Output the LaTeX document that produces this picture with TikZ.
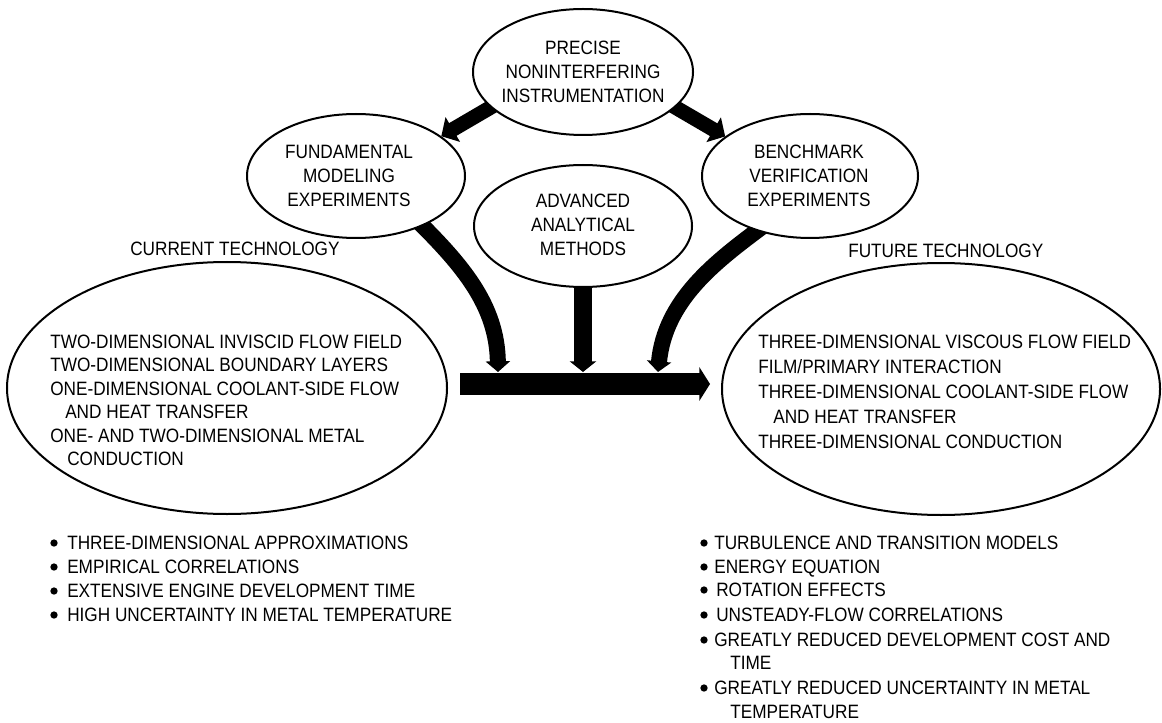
\documentclass[tikz,border=0pt]{standalone}
\usepackage{fontspec}
\setmainfont{Liberation Sans}[FakeStretch=0.89]
\usetikzlibrary{shapes.geometric,arrows.meta,calc}
\pgfdeclarelayer{bg}
\pgfsetlayers{bg,main}
\begin{document}
\begin{tikzpicture}[x=0.75pt,y=-0.75pt,
  oval/.style={draw, ellipse, line width=1.5pt, fill=white, inner sep=0pt},
  txt/.style={font=\fontsize{14.5pt}{18pt}\selectfont, inner sep=0pt},
  lbl/.style={txt, align=center},
  tline/.style={txt, anchor=base west},
  dot/.style={circle, fill=black, inner sep=0pt, minimum size=5.5pt},
  dband/.style={line width=11pt, -{Triangle[length=10pt,width=21pt]}},
  cband/.style={line width=12pt, -{Triangle[length=8pt,width=18pt]}},
  mband/.style={line width=13.5pt, -{Triangle[length=8pt,width=19.5pt]}},
  bigband/.style={line width=16.5pt, -{Triangle[length=8pt,width=25pt]}}
]
\useasboundingbox (0,0) rectangle (1162,723);

% ellipses
\node[oval, minimum width=165pt, minimum height=94.5pt] (prec) at (583,72) {};
\node[lbl] (prect) at (583,72) {PRECISE\\NONINTERFERING\\INSTRUMENTATION};
\node[oval, minimum width=163.5pt, minimum height=93pt] (fund) at (356,176) {};
\node[lbl] (fundt) at (349,176) {FUNDAMENTAL\\MODELING\\EXPERIMENTS};
\node[oval, minimum width=162pt, minimum height=93pt] (bench) at (810,176) {};
\node[lbl] (bencht) at (809,176) {BENCHMARK\\VERIFICATION\\EXPERIMENTS};
\node[oval, minimum width=163.5pt, minimum height=91.5pt] (adv) at (583,226) {};
\node[lbl] (advt) at (583,225) {ADVANCED\\ANALYTICAL\\METHODS};
\node[oval, minimum width=330pt, minimum height=189pt] (cur) at (227,388) {};
\node[oval, minimum width=328.5pt, minimum height=189pt] (fut) at (941,389) {};

% headings
\node[tline] (curl) at (130,256) {CURRENT TECHNOLOGY};
\node[tline] (futl) at (848,258) {FUTURE TECHNOLOGY};

% current technology
\node[tline] (c1) at (50,348) {TWO-DIMENSIONAL INVISCID FLOW FIELD};
\node[tline] (c2) at (50,371.5) {TWO-DIMENSIONAL BOUNDARY LAYERS};
\node[tline] (c3) at (50,395) {ONE-DIMENSIONAL COOLANT-SIDE FLOW};
\node[tline] (c4) at (65,418.5) {AND HEAT TRANSFER};
\node[tline] (c5) at (50,442) {ONE- AND TWO-DIMENSIONAL METAL};
\node[tline] (c6) at (67,465.5) {CONDUCTION};

% future technology
\node[tline] (f1) at (758,348) {THREE-DIMENSIONAL VISCOUS FLOW FIELD};
\node[tline] (f2) at (758,373) {FILM/PRIMARY INTERACTION};
\node[tline] (f3) at (758,398) {THREE-DIMENSIONAL COOLANT-SIDE FLOW};
\node[tline] (f4) at (773,423) {AND HEAT TRANSFER};
\node[tline] (f5) at (758,448) {THREE-DIMENSIONAL CONDUCTION};

% left bullets
\node[dot] (ld1) at (54,543) {};
\node[dot] (ld2) at (54,567) {};
\node[dot] (ld3) at (54,591) {};
\node[dot] (ld4) at (54,615) {};
\node[tline] (l1) at (67,549) {THREE-DIMENSIONAL APPROXIMATIONS};
\node[tline] (l2) at (67,573) {EMPIRICAL CORRELATIONS};
\node[tline] (l3) at (67,597) {EXTENSIVE ENGINE DEVELOPMENT TIME};
\node[tline] (l4) at (67,621) {HIGH UNCERTAINTY IN METAL TEMPERATURE};

% right bullets
\node[dot] (rd1) at (704,543) {};
\node[dot] (rd2) at (704,567) {};
\node[dot] (rd3) at (704,590) {};
\node[dot] (rd4) at (704,615) {};
\node[dot] (rd5) at (704,640) {};
\node[dot] (rd6) at (704,688) {};
\node[tline] (r1) at (714,549) {TURBULENCE AND TRANSITION MODELS};
\node[tline] (r2) at (714,573) {ENERGY EQUATION};
\node[tline] (r3) at (716,596) {ROTATION EFFECTS};
\node[tline] (r4) at (716,621) {UNSTEADY-FLOW CORRELATIONS};
\node[tline] (r5) at (714,646) {GREATLY REDUCED DEVELOPMENT COST AND};
\node[tline] (r6) at (730,669) {TIME};
\node[tline] (r7) at (714,694) {GREATLY REDUCED UNCERTAINTY IN METAL};
\node[tline] (r8) at (730,718) {TEMPERATURE};

% connector end points
\coordinate (fundtip) at (fund.25);
\coordinate (benchtip) at (bench.155);
\coordinate (tipL) at (498,372);
\coordinate (tipM) at (583,372);
\coordinate (tipR) at (658,372);
\coordinate (ms) at ($(cur.east)+(12,-4)$);
\coordinate (me) at ($(fut.west)+(-11,-5)$);

\begin{pgfonlayer}{bg}
  \draw[dband] ($(prec.center)!0.9!(prec.200)$) -- (fundtip);
  \draw[dband] ($(prec.center)!0.9!(prec.340)$) -- (benchtip);
  \draw[cband] ($(fund.center)!0.9!(fund.-36)$) .. controls (462,265) and (497,305) .. (tipL);
  \draw[mband] (adv.center) -- (tipM);
  \draw[cband] ($(bench.center)!0.9!(bench.227)$) .. controls (715,262) and (665,300) .. (tipR);
  \draw[bigband] (ms) -- (me);
\end{pgfonlayer}
\end{tikzpicture}
\end{document}
